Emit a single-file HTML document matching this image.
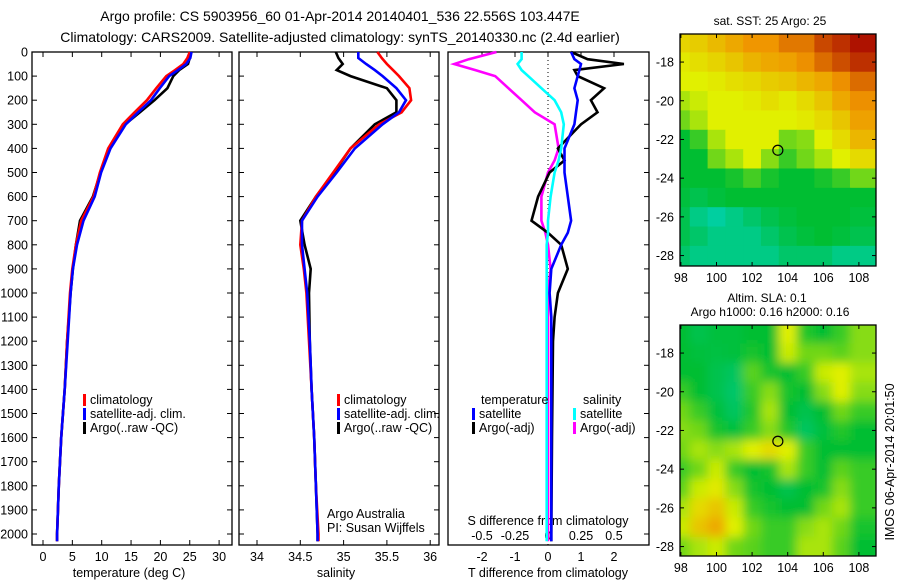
<!DOCTYPE html>
<html><head><meta charset="utf-8">
<style>
html,body{margin:0;padding:0;background:#fff;}
svg{display:block;font-family:"Liberation Sans",sans-serif;}
text{fill:#000;}
</style></head>
<body>
<svg id="fig" width="900" height="580" viewBox="0 0 900 580">
<defs>
<filter id="blur2" x="0" y="0" width="100%" height="100%"><feGaussianBlur stdDeviation="5"/></filter>
<clipPath id="clipM1"><rect x="680" y="34" width="196" height="232"/></clipPath>
<clipPath id="clipM2"><rect x="680" y="325" width="196" height="231"/></clipPath>
</defs>
<text x="340" y="21" font-size="14" text-anchor="middle">Argo profile: CS 5903956_60 01-Apr-2014 20140401_536 22.556S 103.447E</text>
<text x="340" y="42" font-size="14" text-anchor="middle">Climatology: CARS2009. Satellite-adjusted climatology: synTS_20140330.nc (2.4d earlier)</text>
<g id="g"></g>
</svg>
<script>
// ---------- data ----------
const depthLevels=[0,25,50,75,100,150,200,250,300,400,500,600,700,800,900,1000,1200,1400,1600,1800,2000,2030];
const tempClim=[25.0,24.6,23.9,22.5,21.0,19.3,17.7,15.6,13.6,11.1,9.7,8.6,6.5,5.6,5.0,4.6,4.1,3.7,3.1,2.7,2.4,2.4];
const tempSat=[25.3,25.1,24.4,23.0,21.5,19.9,18.4,16.2,14.1,11.5,9.9,8.8,6.9,5.8,5.1,4.7,4.2,3.7,3.1,2.7,2.4,2.4];
const tempArgo=[25.2,25.0,24.7,23.2,22.2,21.2,19.0,16.5,14.0,11.3,9.8,8.5,6.3,5.6,5.1,4.7,4.1,3.7,3.1,2.7,2.4,2.4];
const salClim=[35.39,35.44,35.50,35.57,35.64,35.76,35.78,35.67,35.41,35.08,34.88,34.68,34.52,34.50,34.54,34.57,34.60,34.63,34.66,34.68,34.71,34.71];
const salSat=[35.17,35.17,35.26,35.36,35.45,35.61,35.72,35.64,35.45,35.13,34.92,34.70,34.52,34.52,34.55,34.58,34.61,34.63,34.66,34.68,34.70,34.70];
const salArgo=[34.91,34.94,34.99,34.92,35.08,35.50,35.61,35.61,35.36,35.08,34.89,34.68,34.50,34.55,34.62,34.60,34.61,34.63,34.66,34.68,34.70,34.70];
const diffDepths=[0,30,50,75,100,150,200,250,300,400,450,500,600,700,750,800,900,1000,1100,1200,1600,2000,2030];
const tDiffArgo=[0.7,1.2,2.3,0.8,0.9,1.7,1.3,1.5,1.0,0.3,0.5,0.05,-0.3,-0.5,0,0.4,0.6,0.3,0.2,0.15,0.12,0.1,0.1];
const tDiffSat=[0.7,0.8,1.0,0.95,0.9,0.8,0.9,0.85,0.8,0.5,0.5,0.5,0.6,0.7,0.6,0.4,0.1,0.05,0.1,0.1,0.1,0.1,0.1];
const sDiffArgo=[-0.39,-0.6,-0.71,-0.55,-0.4,-0.3,-0.2,-0.1,0.05,0.08,0.05,0.0,-0.05,-0.05,-0.02,0.0,0.02,0.0,0.0,0.0,0.0,0.0,0.0];
const sDiffSat=[-0.2,-0.2,-0.23,-0.2,-0.15,-0.05,0.05,0.1,0.12,0.1,0.08,0.05,0.02,0.0,0.0,-0.01,-0.01,-0.01,-0.01,-0.01,-0.01,-0.01,-0.01];
const depthTicks=[0,100,200,300,400,500,600,700,800,900,1000,1100,1200,1300,1400,1500,1600,1700,1800,1900,2000];
const tempTicks=[0,5,10,15,20,25,30];
const salTicks=[34,34.5,35,35.5,36];
const tDiffTicks=[-2,-1,0,1,2];
const sDiffTicks=[-0.5,-0.25,0,0.25,0.5];
const sDiffTickLabels=["-0.5","-0.25","0","0.25","0.5"];
const latTicks=[-18,-20,-22,-24,-26,-28];
const lonTicks=[98,100,102,104,106,108];
const argoLon=103.447, argoLat=-22.556;
const sstGrid=[
[0.58,0.6,0.65,0.7,0.75,0.75,0.8,0.8,0.88,0.92,0.97],
[0.52,0.55,0.58,0.62,0.67,0.7,0.72,0.76,0.82,0.87,0.92],
[0.5,0.5,0.52,0.55,0.57,0.6,0.62,0.66,0.7,0.76,0.82],
[0.45,0.48,0.5,0.5,0.52,0.55,0.52,0.56,0.62,0.7,0.76],
[0.4,0.45,0.5,0.5,0.5,0.5,0.5,0.52,0.56,0.62,0.72],
[0.3,0.35,0.45,0.5,0.5,0.5,0.4,0.42,0.5,0.56,0.66],
[0.3,0.3,0.4,0.45,0.5,0.42,0.35,0.4,0.45,0.5,0.56],
[0.3,0.3,0.3,0.32,0.36,0.32,0.3,0.3,0.32,0.35,0.4],
[0.28,0.25,0.28,0.3,0.3,0.3,0.3,0.3,0.3,0.3,0.3],
[0.25,0.15,0.1,0.15,0.2,0.25,0.28,0.3,0.3,0.3,0.28],
[0.25,0.2,0.15,0.15,0.15,0.2,0.25,0.28,0.3,0.28,0.25],
[0.2,0.15,0.15,0.15,0.15,0.15,0.2,0.2,0.2,0.15,0.15]];
const slaGrid=[
[.3,.25,.28,.28,.3,.3,.5,.33,.3,.35,.42],
[.3,.28,.27,.28,.32,.3,.48,.4,.4,.38,.42],
[.3,.3,.25,.22,.38,.32,.3,.35,.48,.5,.45],
[.35,.3,.25,.2,.35,.42,.32,.3,.42,.5,.42],
[.4,.35,.28,.22,.33,.45,.3,.25,.3,.4,.35],
[.42,.4,.32,.28,.35,.42,.33,.22,.28,.33,.3],
[.4,.45,.42,.45,.5,.56,.5,.35,.3,.3,.3],
[.35,.4,.48,.35,.3,.32,.45,.35,.3,.38,.35],
[.38,.48,.52,.42,.32,.3,.25,.3,.32,.42,.35],
[.45,.56,.62,.48,.35,.32,.3,.3,.4,.45,.35],
[.48,.62,.7,.5,.4,.35,.35,.42,.45,.4,.32],
[.4,.45,.48,.4,.38,.35,.35,.45,.45,.38,.3]];

// ---------- helpers ----------
const NS="http://www.w3.org/2000/svg";
const G=document.getElementById('g');
function mk(tag,attrs,parent){const e=document.createElementNS(NS,tag);for(const k in attrs)e.setAttribute(k,attrs[k]);(parent||G).appendChild(e);return e;}
function txt(x,y,s,size,anchor,parent){const e=mk('text',{x:x,y:y,'font-size':size||12,'text-anchor':anchor||'middle'},parent);e.textContent=s;return e;}
const top0=52,bot0=545;
const yD=d=>top0+d*0.2410;
function panel(x0,x1,name){
  const r=mk('rect',{x:x0,y:top0,width:x1-x0,height:bot0-top0,fill:'none',stroke:'#000','stroke-width':1.3});
  
  
}
function line(xs,ds,fx,color,name,w){
  const pts=xs.map((v,i)=>fx(v).toFixed(1)+','+yD(ds[i]).toFixed(1)).join(' ');
  const p=mk('polyline',{points:pts,fill:'none',stroke:color,'stroke-width':w||2.6,'stroke-linejoin':'miter'});
  
  
}
function legend(x,y,items,name){
  const g=mk('g',{});
  
  
  items.forEach((it,i)=>{
    mk('rect',{x:x,y:y+i*14-10,width:3,height:12,fill:it[1]},g);
    txt(x+7,y+i*14,it[0],12.5,'start',g);
  });
}

// ---------- temperature panel ----------
const xT=t=>43+t*5.87;
panel(32,232,'temperature-panel');
depthTicks.forEach(d=>{mk('line',{x1:32,x2:37,y1:yD(d),y2:yD(d),stroke:'#000'});mk('line',{x1:232,x2:227,y1:yD(d),y2:yD(d),stroke:'#000'});
  txt(28,yD(d)+4.5,String(d),12.5,'end');});
tempTicks.forEach(t=>{mk('line',{x1:xT(t),x2:xT(t),y1:bot0,y2:bot0-5,stroke:'#000'});mk('line',{x1:xT(t),x2:xT(t),y1:top0,y2:top0+5,stroke:'#000'});txt(xT(t),561,String(t),12.5);});
txt(129,577,'temperature (deg C)',12.5);
line(tempArgo,depthLevels,xT,'#000','temp-argo-line');
line(tempClim,depthLevels,xT,'#f00','temp-climatology-line');
line(tempSat,depthLevels,xT,'#00f','temp-satellite-line');
legend(83,404,[['climatology','#f00'],['satellite-adj. clim.','#00f'],['Argo(..raw -QC)','#000']],'temperature-legend');

// ---------- salinity panel ----------
const xS=s=>257+(s-34)*86.6;
panel(239,439,'salinity-panel');
depthTicks.forEach(d=>{mk('line',{x1:239,x2:244,y1:yD(d),y2:yD(d),stroke:'#000'});mk('line',{x1:439,x2:434,y1:yD(d),y2:yD(d),stroke:'#000'});});
salTicks.forEach(s=>{mk('line',{x1:xS(s),x2:xS(s),y1:bot0,y2:bot0-5,stroke:'#000'});mk('line',{x1:xS(s),x2:xS(s),y1:top0,y2:top0+5,stroke:'#000'});txt(xS(s),561,String(s),12.5);});
txt(336,577,'salinity',12.5);
line(salArgo,depthLevels,xS,'#000','salinity-argo-line');
line(salClim,depthLevels,xS,'#f00','salinity-climatology-line');
line(salSat,depthLevels,xS,'#00f','salinity-satellite-line');
legend(337,404,[['climatology','#f00'],['satellite-adj. clim.','#00f'],['Argo(..raw -QC)','#000']],'salinity-legend');
txt(327,518,'Argo Australia',12.5,'start');
txt(327,532,'PI: Susan Wijffels',12.5,'start');

// ---------- difference panel ----------
const xTd=t=>548+t*33;
const xSd=s=>548+s*132;
panel(448,649,'difference-panel');
mk('line',{x1:548,x2:548,y1:top0,y2:bot0,stroke:'#000','stroke-dasharray':'1,3','stroke-width':1});
tDiffTicks.forEach(t=>{mk('line',{x1:xTd(t),x2:xTd(t),y1:top0,y2:top0+5,stroke:'#000'});txt(xTd(t),561,String(t),12.5);});
sDiffTicks.forEach((s,i)=>{txt(xSd(s),540,sDiffTickLabels[i],12.5);});
depthTicks.forEach(d=>{mk('line',{x1:649,x2:644,y1:yD(d),y2:yD(d),stroke:'#000'});});
txt(548,525,'S difference from climatology',12.5);
txt(548,577,'T difference from climatology',12.5);
line(sDiffArgo,diffDepths,xSd,'#f0f','salinity-diff-argo-line');
line(tDiffArgo,diffDepths,xTd,'#000','temp-diff-argo-line');
line(sDiffSat,diffDepths,xSd,'#0ff','salinity-diff-satellite-line');
line(tDiffSat,diffDepths,xTd,'#00f','temp-diff-satellite-line');
txt(481,404,'temperature',12.5,'start');
legend(472,418,[['satellite','#00f'],['Argo(-adj)','#000']],'temp-diff-legend');
txt(583,404,'salinity',12.5,'start');
legend(573,418,[['satellite','#0ff'],['Argo(-adj)','#f0f']],'salinity-diff-legend');

// ---------- maps ----------
const stops=[[0,[0,215,215]],[0.3,[0,190,50]],[0.5,[225,240,0]],[0.75,[240,150,0]],[1,[165,0,0]]];
function cmap(v){for(let i=1;i<stops.length;i++){if(v<=stops[i][0]){const a=stops[i-1],b=stops[i];const f=(v-a[0])/(b[0]-a[0]);
  const c=a[1].map((q,k)=>Math.round(q+(b[1][k]-q)*f));return 'rgb('+c.join(',')+')';}}return 'rgb(165,0,0)';}
function map(x0,y0,w,h,latTop,grid,name,smooth,clip){
  const lx=lon=>x0+(lon-97.95)*17.8;
  const ly=lat=>y0+(latTop-lat)*19.35;
  const g=mk('g',{'clip-path':'url(#'+clip+')'});
  
  
  const cg=mk('g',smooth?{filter:'url(#blur2)'}:{},g);
  grid.forEach((row,r)=>row.forEach((v,c)=>{
    const lat=-17+0.5-r, lon=98+c-0.5;
    const pad=smooth?6:0;
    const xa=lx(lon)-(c===0?pad+10:0), ya=ly(lat)-(r===0?pad+10:0);
    const xb=lx(lon+1)+(c===row.length-1?pad+10:0), yb=ly(lat-1)+(r===grid.length-1?pad+10:0);
    const cell=mk('rect',{x:xa,y:ya,width:xb-xa+0.5,height:yb-ya+0.5,fill:cmap(v)},cg);
    
    
  }));
  mk('rect',{x:x0,y:y0,width:w,height:h,fill:'none',stroke:'#000','stroke-width':1.3});
  latTicks.forEach(l=>{mk('line',{x1:x0,x2:x0+4,y1:ly(l),y2:ly(l),stroke:'#000'});mk('line',{x1:x0+w,x2:x0+w-4,y1:ly(l),y2:ly(l),stroke:'#000'});txt(x0-6,ly(l)+4.5,String(l),12.5,'end');});
  lonTicks.forEach(l=>{mk('line',{x1:lx(l),x2:lx(l),y1:y0+h,y2:y0+h-4,stroke:'#000'});mk('line',{x1:lx(l),x2:lx(l),y1:y0,y2:y0+4,stroke:'#000'});txt(lx(l),y0+h+16,String(l),12.5);});
  const m=mk('circle',{cx:lx(argoLon),cy:ly(argoLat),r:5,fill:'none',stroke:'#000','stroke-width':1.2});
  
  
}
map(680,34,196,232,-16.55,sstGrid,'sst-map',false,'clipM1');
txt(770,25,'sat. SST: 25 Argo: 25',12);
map(680,325,196,231,-16.55,slaGrid,'sla-map',true,'clipM2');
txt(767,302,'Altim. SLA: 0.1',12);
txt(770,316,'Argo h1000: 0.16 h2000: 0.16',12);
const side=txt(0,0,'IMOS 06-Apr-2014 20:01:50',12.5,'middle');
side.setAttribute('transform','translate(894,462) rotate(-90)');


</script>
</body></html>
